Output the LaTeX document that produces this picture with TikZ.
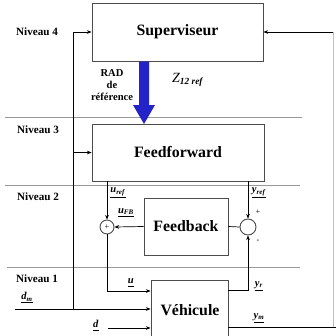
\documentclass[tikz,border=0pt]{standalone}
\usepackage{fontspec}
\setmainfont{Liberation Serif}
\usetikzlibrary{positioning,arrows.meta,calc}
\definecolor{radblue}{HTML}{2323C8}
\newcommand{\sig}[2]{\underline{\textbf{\textit{#1}}\textsubscript{\textbf{\textit{#2}}}}}

\begin{document}
\begin{tikzpicture}[x=0.03cm,y=-0.03cm,
font=\bfseries\fontsize{13.5}{15}\selectfont,
box/.style={draw=black!70, line width=0.8pt, inner sep=0pt},
sum/.style={draw=black!70, line width=0.8pt, circle, inner sep=0pt},
arrow/.style={-{Stealth[length=1.4mm,width=1.1mm]}, line width=0.6pt},
conn/.style={line width=0.6pt},
level/.style={draw=black!40, line width=0.8pt},
niv/.style={font=\bfseries\fontsize{9.5}{11}\selectfont},
sig/.style={font=\fontsize{9}{10}\selectfont, inner sep=1pt}
]
\clip (0,0) rectangle (336,336);
\draw[level] (5,117) -- (302,117);
\draw[level] (5,185) -- (300,185);
\draw[level] (7,267) -- (300,267);

\node[niv] (niv4) at (37,32) {Niveau 4};
\node[niv] (niv3) at (38,130) {Niveau 3};
\node[niv] (niv2) at (38,197) {Niveau 2};
\node[niv] (niv1) at (37,279) {Niveau 1};

\node[box, minimum width=5.13cm, minimum height=1.74cm] (sup) at (177.5,32) {Superviseur};
\node[box, minimum width=5.16cm, minimum height=1.71cm] (ff) at (178,152.5) {Feedforward};
\node[box, minimum width=2.52cm, minimum height=1.71cm] (fb) at (186,226.5) {Feedback};
\node[box, minimum width=2.31cm, minimum height=1.92cm, text depth=0pt] (veh) at (189.5,312) {};
\node (vehtxt) at (190,310) {Véhicule};
\node[sum, minimum size=0.42cm] (sum1) at (107,227) {};
\node[sum, minimum size=0.48cm] (sum2) at (248,227) {};
\node[font=\fontsize{7}{7}\selectfont] (plus1) at (107,227) {+};

\fill[radblue] (139,61.5) -- (149,61.5) -- (149,105) -- (155,105) -- (144,124)
  -- (133,105) -- (139,105) -- cycle;
\node[font=\bfseries\fontsize{9}{10}\selectfont, align=center, inner sep=0pt] (rad) at (112,85)
  {RAD\\de\\référence};
\node[font=\mdseries\fontsize{12}{12}\selectfont] (zref) at (188,80)
  {\textit{Z}\textsubscript{\textbf{\textit{12 ref}}}};

\coordinate (dmin) at (15,309);
\coordinate (jdm) at (73,309);
\coordinate (din) at (108,328);
\coordinate (ymout) at (336,327);
\coordinate (ret) at (333,327);

\draw[arrow] (ff.south -| sum1) -- (sum1.north);
\draw[arrow] (ff.south -| sum2) -- (sum2.north);
\draw[arrow] (fb.west) -- (sum1.east);
\draw[conn] (sum2.west) -- (fb.east);
\draw[arrow] (veh.east |- 0,290) -| (sum2.south);
\draw[arrow] (sum1.south) |- (veh.west |- 0,291);
\draw[arrow] (dmin) -- (veh.west |- dmin);
\draw[conn] (jdm) -- (jdm |- sup.west);
\draw[arrow] (jdm |- sup.west) -- (sup.west);
\draw[arrow] (jdm |- ff.west) -- (ff.west);
\draw[arrow] (din) -- (veh.west |- din);
\draw[conn] (veh.east |- ymout) -- (ymout);
\draw[line width=0.6pt, black!25] (ret) -- (ret |- sup.east);
\draw[arrow] (ret |- sup.east) -- (sup.east);

\node[sig] (uref) at (118,193) {\sig{u}{ref}};
\node[sig] (yref) at (259,193) {\sig{y}{ref}};
\node[sig] (ufb) at (126,213) {\sig{u}{FB}};
\node[sig] (uu) at (131,283) {\sig{u}{}};
\node[sig] (dm) at (27,298) {\sig{d}{m}};
\node[sig] (dd) at (96,326) {\sig{d}{}};
\node[sig] (yr) at (259,286) {\sig{y}{r}};
\node[sig] (ym) at (259,318) {\sig{y}{m}};
\node[font=\mdseries\fontsize{7}{7}\selectfont] (pl) at (258,212) {+};
\node[font=\mdseries\fontsize{7}{7}\selectfont] (mi) at (258,241) {-};
\end{tikzpicture}
\end{document}
